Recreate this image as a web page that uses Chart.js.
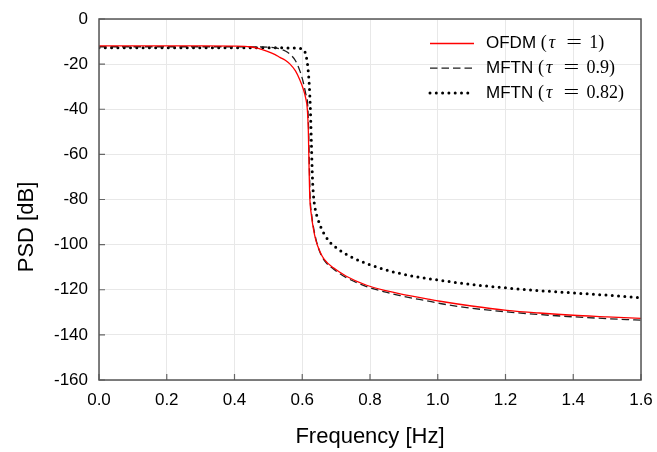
<!DOCTYPE html>
<html><head><meta charset="utf-8">
<script src="https://cdn.jsdelivr.net/npm/chart.js@4.4.1/dist/chart.umd.min.js"></script>
<style>html,body{margin:0;padding:0;background:#fff;}</style>
</head><body>
<canvas id="c" width="657" height="452"></canvas>
<script>
const xTicks = [0, 0.2, 0.4, 0.6, 0.8, 1.0, 1.2, 1.4, 1.6];
const xTickLabels = ['0.0','0.2','0.4','0.6','0.8','1.0','1.2','1.4','1.6'];
const yTicks = [0, -20, -40, -60, -80, -100, -120, -140, -160];
const yTickLabels = ['0','-20','-40','-60','-80','-100','-120','-140','-160'];
const xTitle = 'Frequency [Hz]';
const yTitle = 'PSD [dB]';
const seriesNames = ['OFDM', 'MFTN', 'MFTN'];
const tauValues = ['1', '0.9', '0.82'];

const ofdmFreq = [0, 0.1, 0.2, 0.3, 0.4, 0.43, 0.446, 0.47, 0.495, 0.52, 0.534, 0.55, 0.564, 0.58, 0.593, 0.603, 0.61, 0.615, 0.618, 0.62, 0.622, 0.627, 0.633, 0.64, 0.652, 0.665, 0.692, 0.73, 0.79, 0.85, 0.889, 0.977, 1.007, 1.1, 1.204, 1.3, 1.4, 1.5, 1.6];
const ofdmPSD = [-11.9, -11.9, -11.9, -11.9, -12.0, -12.1, -12.3, -13.0, -14.2, -15.8, -17.0, -18.3, -20.0, -23.0, -27.0, -31.0, -35.0, -40.0, -50.0, -65.0, -78.0, -87.0, -93.0, -98.0, -103.0, -106.5, -110.3, -114.0, -118.0, -120.5, -121.8, -124.3, -125.1, -127.2, -129.1, -130.3, -131.3, -132.0, -132.7];

const mftn9Freq = [0, 0.1, 0.2, 0.3, 0.4, 0.48, 0.5, 0.52, 0.534, 0.55, 0.564, 0.58, 0.593, 0.603, 0.61, 0.616, 0.619, 0.621, 0.623, 0.628, 0.634, 0.641, 0.652, 0.665, 0.692, 0.73, 0.79, 0.85, 0.889, 0.977, 1.007, 1.1, 1.204, 1.3, 1.4, 1.5, 1.6];
const mftn9PSD = [-12.3, -12.3, -12.3, -12.3, -12.3, -12.4, -12.5, -12.8, -13.3, -14.2, -15.6, -18.5, -23.0, -28.0, -33.0, -38.0, -50.0, -65.0, -78.0, -87.0, -93.0, -98.0, -103.3, -107.0, -110.8, -114.6, -118.6, -121.2, -122.6, -125.2, -126.1, -128.2, -129.8, -131.0, -132.0, -132.8, -133.5];

const mftn82Freq = [0, 0.1, 0.2, 0.3, 0.4, 0.5, 0.55, 0.59, 0.6, 0.605, 0.611, 0.617, 0.621, 0.624, 0.627, 0.63, 0.633, 0.638, 0.647, 0.657, 0.67, 0.682, 0.7, 0.716, 0.736, 0.79, 0.859, 0.928, 1.007, 1.1, 1.204, 1.3, 1.4, 1.5, 1.6];
const mftn82PSD = [-12.7, -12.7, -12.7, -12.7, -12.7, -12.7, -12.8, -13.0, -13.2, -13.8, -16.0, -22.0, -30.0, -40.0, -55.0, -70.0, -78.0, -84.0, -89.0, -93.0, -96.5, -99.0, -101.3, -103.0, -104.8, -108.4, -111.7, -114.0, -115.8, -117.7, -119.2, -120.4, -121.4, -122.4, -123.5];

const pts = (xs, ys) => xs.map((x, i) => ({x: x, y: ys[i]}));
const SANS = '"Liberation Sans", Arial, sans-serif';
const SERIF = '"Liberation Serif", "Times New Roman", serif';

const styles = [
  {borderColor: '#ff0000', borderWidth: 1.3, borderDash: [], borderCapStyle: 'butt'},
  {borderColor: '#1e1e1e', borderWidth: 1.3, borderDash: [7.5, 4], borderCapStyle: 'butt'},
  {borderColor: '#000000', borderWidth: 3, borderDash: [0, 6.3], borderCapStyle: 'round'}
];

const framePlugin = {
  id: 'frame',
  afterDraw(chart) {
    const ctx = chart.ctx;
    const a = chart.chartArea;
    const xs = chart.scales.x, ys = chart.scales.y;
    ctx.save();
    // inward ticks
    ctx.strokeStyle = '#666';
    ctx.lineWidth = 1.2;
    ctx.beginPath();
    xTicks.forEach(v => { const p = xs.getPixelForValue(v); ctx.moveTo(p, a.bottom); ctx.lineTo(p, a.bottom - 6); });
    yTicks.forEach(v => { const p = ys.getPixelForValue(v); ctx.moveTo(a.left, p); ctx.lineTo(a.left + 6, p); });
    ctx.stroke();
    // box
    ctx.strokeStyle = '#555';
    ctx.lineWidth = 1.5;
    ctx.strokeRect(a.left, a.top, a.right - a.left, a.bottom - a.top);
    // y title
    ctx.fillStyle = '#000';
    ctx.font = '22px ' + SANS;
    ctx.textAlign = 'center';
    ctx.textBaseline = 'middle';
    ctx.translate(27, 227);
    ctx.rotate(-Math.PI / 2);
    ctx.fillText(yTitle, 0, 0);
    ctx.restore();

    // legend
    ctx.save();
    const x0 = 430, x1 = 474, tx = 486, y0 = 43.5, dy = 24.7;
    for (let i = 0; i < 3; i++) {
      const y = y0 + i * dy;
      const s = styles[i];
      ctx.strokeStyle = s.borderColor;
      ctx.lineWidth = s.borderWidth;
      ctx.setLineDash(s.borderDash);
      ctx.lineCap = s.borderCapStyle;
      ctx.beginPath(); ctx.moveTo(x0, y); ctx.lineTo(x1, y); ctx.stroke();
      ctx.setLineDash([]);
      ctx.fillStyle = '#000';
      ctx.textAlign = 'left';
      ctx.textBaseline = 'middle';
      let x = tx;
      ctx.font = '17px ' + SANS;
      const t1 = seriesNames[i] + ' ';
      ctx.fillText(t1, x, y); x += ctx.measureText(t1).width;
      ctx.font = '18px ' + SERIF;
      ctx.fillText('(', x, y);
      ctx.font = 'italic 18px ' + SERIF;
      ctx.fillText('\u03C4', x + 8, y);
      ctx.font = '18px ' + SERIF;
      ctx.save();
      ctx.translate(x + 25.5, y);
      ctx.scale(1.55, 1);
      ctx.fillText('=', 0, 0);
      ctx.restore();
      ctx.fillText(tauValues[i] + ')', x + 48.5, y);
    }
    ctx.restore();
  }
};

new Chart(document.getElementById('c').getContext('2d'), {
  type: 'line',
  data: {
    datasets: [
      Object.assign({label: seriesNames[0] + ' (\u03C4 = ' + tauValues[0] + ')', data: pts(ofdmFreq, ofdmPSD)}, styles[0]),
      Object.assign({label: seriesNames[1] + ' (\u03C4 = ' + tauValues[1] + ')', data: pts(mftn9Freq, mftn9PSD)}, styles[1]),
      Object.assign({label: seriesNames[2] + ' (\u03C4 = ' + tauValues[2] + ')', data: pts(mftn82Freq, mftn82PSD)}, styles[2])
    ].map(d => Object.assign(d, {pointRadius: 0, fill: false, cubicInterpolationMode: 'monotone'}))
  },
  options: {
    responsive: false,
    animation: false,
    devicePixelRatio: 1,
    layout: {padding: {top: 19, right: 16, left: 0, bottom: 0}},
    plugins: {legend: {display: false}, tooltip: {enabled: false}},
    scales: {
      x: {
        type: 'linear', min: 0, max: 1.6,
        afterBuildTicks: s => { s.ticks = xTicks.map(v => ({value: v})); },
        afterFit: s => { s.height = 72; s.paddingLeft = 0; s.paddingRight = 0; },
        ticks: {callback: (v, i) => xTickLabels[i], font: {family: SANS, size: 17}, color: '#000', padding: 10, maxRotation: 0, autoSkip: false},
        grid: {color: '#e8e8e8', lineWidth: 1, drawTicks: false},
        border: {display: false},
        title: {display: true, text: xTitle, color: '#000', font: {family: SANS, size: 22}, padding: {top: 2, bottom: 2}}
      },
      y: {
        type: 'linear', min: -160, max: 0,
        afterBuildTicks: s => { s.ticks = yTicks.map(v => ({value: v})); },
        afterFit: s => { s.width = 99; s.paddingTop = 0; s.paddingBottom = 0; },
        ticks: {callback: (v, i) => yTickLabels[i], font: {family: SANS, size: 17}, color: '#000', padding: 11, autoSkip: false},
        grid: {color: '#e8e8e8', lineWidth: 1, drawTicks: false},
        border: {display: false}
      }
    }
  },
  plugins: [framePlugin]
});
</script>
</body></html>
